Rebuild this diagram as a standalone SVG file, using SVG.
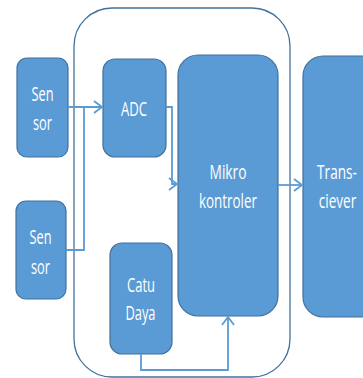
<svg xmlns="http://www.w3.org/2000/svg" width="363" height="378" viewBox="0 0 363 378">
<style>
.box{fill:#5B9BD5;stroke:#41719C;stroke-width:1.2}
.t{fill:#fff;font-family:"Open Sans","Liberation Sans",sans-serif;font-size:20px;text-anchor:middle}
.c{fill:none;stroke:#5B9BD5;stroke-width:1.8}
</style>
<defs>
<marker id="ah" markerWidth="12" markerHeight="14" refX="10" refY="7" orient="auto" markerUnits="userSpaceOnUse">
<path d="M2,1 L10,7 L2,13" fill="none" stroke="#5B9BD5" stroke-width="1.8"/>
</marker>
</defs>
<rect width="363" height="378" fill="#fff"/>
<g id="container"><rect x="74" y="8" width="216" height="369" rx="38" ry="38" fill="none" stroke="#41719C" stroke-width="1.3"/></g>
<g id="sensor1"><rect class="box" x="17" y="58" width="51" height="99" rx="10"/><text class="t" x="42.5" y="101" textLength="22" lengthAdjust="spacingAndGlyphs">Sen</text><text class="t" x="42.5" y="130" textLength="19" lengthAdjust="spacingAndGlyphs">sor</text></g>
<g id="sensor2"><rect class="box" x="16" y="201" width="50" height="98" rx="10"/><text class="t" x="40.5" y="244" textLength="22" lengthAdjust="spacingAndGlyphs">Sen</text><text class="t" x="40.5" y="274" textLength="19" lengthAdjust="spacingAndGlyphs">sor</text></g>
<g id="adc"><rect class="box" x="103" y="59" width="63" height="98" rx="12"/><text class="t" x="134" y="116" textLength="26" lengthAdjust="spacingAndGlyphs">ADC</text></g>
<g id="mikro"><rect class="box" x="178" y="55" width="100" height="261" rx="20"/><text class="t" x="228" y="179" textLength="37" lengthAdjust="spacingAndGlyphs">Mikro</text><text class="t" x="228" y="208" textLength="58" lengthAdjust="spacingAndGlyphs">kontroler</text></g>
<g id="transceiver"><rect class="box" x="303" y="56" width="80" height="261" rx="20"/><text class="t" transform="translate(337,179) scale(0.68,1)">Trans-</text><text class="t" transform="translate(337.5,208) scale(0.68,1)">ciever</text></g>
<g id="catudaya"><rect class="box" x="110" y="243" width="62" height="111" rx="12"/><text class="t" x="141" y="292" textLength="28" lengthAdjust="spacingAndGlyphs">Catu</text><text class="t" x="140.5" y="320" textLength="30" lengthAdjust="spacingAndGlyphs">Daya</text></g>
<g id="connectors">
<path class="c" d="M68,107 H102" marker-end="url(#ah)"/>
<path class="c" d="M66,250 H84 V107"/>
<path class="c" d="M166,107 H172 V184 H177" marker-end="url(#ah)"/>
<path class="c" d="M278,185 H302" marker-end="url(#ah)"/>
<path class="c" d="M141,354 V370 H228 V317" marker-end="url(#ah)"/>
</g>
</svg>
